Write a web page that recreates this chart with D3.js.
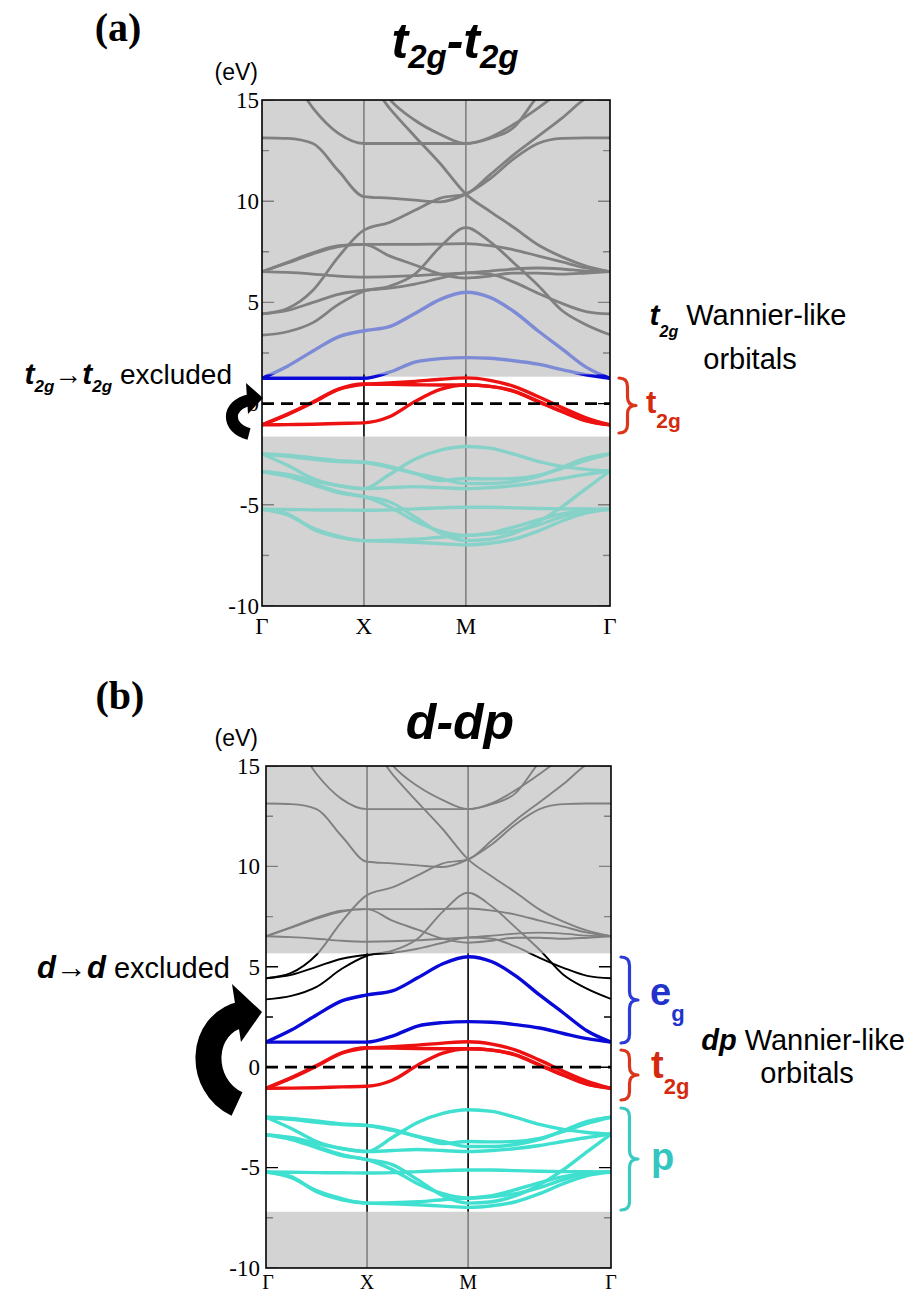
<!DOCTYPE html>
<html><head><meta charset="utf-8">
<script src="https://cdn.jsdelivr.net/npm/d3@7"></script>
<style>body{margin:0;background:#fff}</style>
</head><body>
<svg id="c" width="912" height="1293" xmlns="http://www.w3.org/2000/svg"></svg>
<script>
// ---------- data ----------
const kLabels = ["Γ","X","M","Γ"];
const kLabelPos = [0, 1, 2, 3.414];
const kPoints = [0,0.25,0.5,0.75,1, 1.25,1.5,1.75,2, 2.236,2.471,2.707,2.943,3.179,3.414];
const yTicks = [15,10,5,0,-5,-10];
const yMinor = [12.5,7.5,2.5,-2.5,-7.5];

const upperBands = [
 [13.13,13.1,12.85,11.5,10.23, 10.15,10.05,9.97,10.35, 11.1,12.1,12.85,13.1,13.13,13.13],
 [17.5,16.5,14.6,13.35,12.85, 12.85,12.85,12.85,12.85, 13.1,13.65,15.2,16.3,17.2,17.5],
 [17.4,17.2,17.0,16.6,16.2, 14.6,13.2,11.85,10.35, 9.5,8.7,7.85,7.25,6.8,6.52],
 [4.43,4.7,5.6,7.25,8.57, 8.95,9.55,10.15,10.35, 11.3,12.3,13.2,14.1,15.1,15.6],
 [6.52,6.95,7.4,7.75,7.87, 7.87,7.87,7.88,7.9, 7.8,7.6,7.3,7.0,6.7,6.52],
 [6.52,6.98,7.45,7.8,7.87, 7.3,6.85,6.4,6.2, 6.3,6.45,6.45,6.4,6.45,6.52],
 [6.52,6.48,6.4,6.3,6.25, 6.27,6.32,6.4,6.46, 6.55,6.65,6.7,6.65,6.55,6.52],
 [3.38,3.55,4.0,4.9,5.55, 5.8,6.4,7.75,8.69, 8.0,6.95,5.85,4.6,3.9,3.4],
 [4.43,4.6,5.0,5.4,5.6, 5.7,5.9,6.2,6.46, 6.4,6.0,5.45,4.95,4.55,4.43],
 [18,18,17.8,17.4,17, 15.05,14.0,13.3,12.85, 13.15,13.8,14.6,15.5,16.5,17]
];
const egBands = [
 [1.25,1.85,2.6,3.3,3.6, 3.8,4.45,5.15,5.5, 5.25,4.55,3.6,2.7,1.8,1.25],
 [1.25,1.25,1.25,1.25,1.25, 1.55,2.05,2.22,2.27, 2.24,2.12,1.95,1.68,1.42,1.25]
];
const t2gBands = [
 [-1.05,-0.55,0.05,0.7,0.95, 1.02,1.1,1.2,1.27, 1.15,0.85,0.35,-0.2,-0.7,-1.05],
 [-1.05,-0.52,0.08,0.72,0.97, 0.95,0.93,0.92,0.92, 0.85,0.6,0.1,-0.4,-0.85,-1.05],
 [-1.05,-1.04,-1.02,-0.98,-0.95, -0.65,0.1,0.7,0.92, 0.85,0.62,0.12,-0.38,-0.83,-1.05]
];
const pBands = [
 [-2.49,-2.55,-2.68,-2.82,-2.9, -3.15,-3.45,-3.7,-3.95, -3.95,-3.85,-3.6,-3.15,-2.7,-2.49],
 [-2.49,-2.6,-2.75,-2.86,-2.9, -3.1,-3.45,-3.8,-3.7, -3.72,-3.7,-3.55,-3.2,-2.8,-2.49],
 [-2.49,-3.05,-3.7,-4.05,-4.2, -3.5,-2.75,-2.3,-2.12, -2.2,-2.5,-2.85,-3.1,-3.25,-3.33],
 [-3.37,-3.5,-3.8,-4.05,-4.2, -4.15,-4.1,-4.15,-4.2, -4.15,-4.05,-3.9,-3.7,-3.5,-3.33],
 [-3.37,-3.6,-4.0,-4.4,-4.6, -5.1,-5.8,-6.3,-6.52, -6.45,-6.3,-6.0,-5.6,-5.3,-5.22],
 [-3.37,-3.55,-3.95,-4.35,-4.6, -4.85,-5.6,-6.4,-6.77, -6.7,-6.4,-5.85,-5.1,-4.2,-3.33],
 [-5.22,-5.23,-5.25,-5.26,-5.27, -5.25,-5.2,-5.15,-5.12, -5.12,-5.15,-5.18,-5.2,-5.21,-5.22],
 [-5.22,-5.45,-6.2,-6.6,-6.77, -6.8,-6.85,-6.92,-6.98, -6.9,-6.7,-6.3,-5.8,-5.4,-5.22],
 [-5.22,-5.5,-6.15,-6.55,-6.77, -6.75,-6.7,-6.6,-6.52, -6.4,-6.1,-5.75,-5.45,-5.28,-5.22]
];
const windowA = [-1.63, 1.33];
const windowB = [-7.2, 5.67];

// ---------- drawing ----------
const svg = d3.select("#c");
const SANS = "'Liberation Sans', Arial, sans-serif";
const SERIF = "'Liberation Serif', 'Times New Roman', serif";

const full = {other:"#000000", eg:"#0a0ad8", t2g:"#ee1111", p:"#40e0d0"};
const faded = {other:"#808080", eg:"#7d8bd6", t2g:"#f08080", p:"#86d2c9"};

function panel(cfg){
  const x = d3.scaleLinear().domain([0, 3.414]).range([cfg.left, cfg.right]);
  const y = d3.scaleLinear().domain([-10, 15]).range([cfg.bottom, cfg.top]);
  const g = svg.append("g");
  const W = cfg.right - cfg.left;
  g.append("rect").attr("x",cfg.left).attr("y",cfg.top).attr("width",W).attr("height",cfg.bottom-cfg.top).attr("fill","#d3d3d3");
  g.append("rect").attr("x",cfg.left).attr("y",y(cfg.win[1])).attr("width",W).attr("height",y(cfg.win[0])-y(cfg.win[1])).attr("fill","#ffffff");
  const defs = svg.append("defs");
  const wHi = cfg.win[1] + cfg.pad, wLo = cfg.win[0];
  defs.append("clipPath").attr("id","win"+cfg.id).append("rect")
     .attr("x",cfg.left).attr("y",y(wHi)).attr("width",W).attr("height",y(wLo)-y(wHi));
  const out = defs.append("clipPath").attr("id","out"+cfg.id);
  out.append("rect").attr("x",cfg.left).attr("y",cfg.top).attr("width",W).attr("height",y(wHi)-cfg.top);
  out.append("rect").attr("x",cfg.left).attr("y",y(wLo)).attr("width",W).attr("height",cfg.bottom-y(wLo));

  const line = d3.line().x((d,i)=>x(kPoints[i])).y(d=>y(d)).curve(d3.curveMonotoneX);
  const groups = [["other",upperBands],["p",pBands],["eg",egBands],["t2g",t2gBands]];

  [["out",faded],["win",full]].forEach(([cl,pal])=>{
    const cg = g.append("g").attr("clip-path",`url(#${cl}${cfg.id})`);
    cg.selectAll("line.v").data(kLabelPos.slice(1,3)).enter().append("line")
      .attr("x1",d=>x(d)).attr("x2",d=>x(d)).attr("y1",cfg.top).attr("y2",cfg.bottom)
      .attr("stroke", pal.other).attr("stroke-width",1.6);
    const tk = yTicks.map(v=>({v,len:12})).concat(yMinor.map(v=>({v,len:7})));
    tk.forEach(t=>{
      cg.append("line").attr("x1",cfg.left).attr("x2",cfg.left+t.len).attr("y1",y(t.v)).attr("y2",y(t.v))
        .attr("stroke",pal.other).attr("stroke-width",1.4);
      cg.append("line").attr("x1",cfg.right-t.len).attr("x2",cfg.right).attr("y1",y(t.v)).attr("y2",y(t.v))
        .attr("stroke",pal.other).attr("stroke-width",1.4);
    });
    groups.forEach(([key,bands])=>{
      cg.selectAll(null).data(bands).enter().append("path")
        .attr("d",line).attr("fill","none")
        .attr("stroke",pal[key])
        .attr("stroke-width", key==="other" ? cfg.thinW : 3.4)
        .attr("stroke-linejoin","round");
    });
  });
  g.append("line").attr("x1",cfg.left).attr("x2",cfg.right).attr("y1",y(0)).attr("y2",y(0))
    .attr("stroke","#000").attr("stroke-width",2.8).attr("stroke-dasharray","12,7");
  g.append("rect").attr("x",cfg.left).attr("y",cfg.top).attr("width",W).attr("height",cfg.bottom-cfg.top)
    .attr("fill","none").attr("stroke","#000").attr("stroke-width",1.6);
  g.selectAll(null).data(yTicks).enter().append("text")
    .attr("x",cfg.left-cfg.ygap).attr("y",d=>y(d)).attr("dy","0.34em")
    .attr("text-anchor","end").attr("font-family",SERIF).attr("font-size",23)
    .text(d=>d);
  g.selectAll(null).data(kLabels).enter().append("text")
    .attr("x",(d,i)=>x(kLabelPos[i]) + (i===0 ? cfg.x0shift : 0)).attr("y",cfg.bottom+cfg.xlab)
    .attr("text-anchor","middle").attr("font-family",SERIF).attr("font-size",cfg.xfs)
    .text(d=>d);
  return {x,y};
}

panel({id:"a", left:262, right:610, top:100, bottom:606, win:windowA, pad:0.12, thinW:2.8, xlab:28, xfs:23, ygap:3, x0shift:0});
panel({id:"b", left:266, right:611, top:766, bottom:1268, win:windowB, pad:0, thinW:1.9, xlab:21, xfs:20, ygap:6, x0shift:2});

// ---------- text helpers ----------
function rich(x, y, anchor, parts, base){
  const t = svg.append("text").attr("x",x).attr("y",y).attr("text-anchor",anchor)
    .attr("font-family", SANS).attr("fill", (base&&base.fill)||"#000");
  parts.forEach(p=>{
    const s = t.append("tspan").text(p.t).attr("font-size",p.fs);
    if(p.b) s.attr("font-weight","bold");
    if(p.i) s.attr("font-style","italic");
    if(p.dy) s.attr("dy",p.dy);
    if(p.fill) s.attr("fill",p.fill);
  });
  return t;
}
function brace(x, y0, y1, w, color){
  const ym = (y0+y1)/2, h = w/2;
  const d = `M${x},${y0} Q${x+h},${y0} ${x+h},${y0+h} L${x+h},${ym-h} Q${x+h},${ym} ${x+w},${ym} `+
            `Q${x+h},${ym} ${x+h},${ym+h} L${x+h},${y1-h} Q${x+h},${y1} ${x},${y1}`;
  svg.append("path").attr("d",d).attr("fill","none").attr("stroke",color).attr("stroke-width",3.2)
    .attr("stroke-linecap","round").attr("stroke-linejoin","round");
}
function curvedArrow(arc, sw, head){
  svg.append("path").attr("d",arc).attr("fill","none").attr("stroke","#000").attr("stroke-width",sw);
  svg.append("polygon").attr("points",head.map(p=>p.join(",")).join(" ")).attr("fill","#000");
}

// ---------- panel (a) annotations ----------
svg.append("text").attr("x",118).attr("y",41).attr("text-anchor","middle")
  .attr("font-family",SERIF).attr("font-weight","bold").attr("font-size",40).text("(a)");
svg.append("text").attr("x",258).attr("y",80).attr("text-anchor","end")
  .attr("font-family",SANS).attr("font-size",23).text("(eV)");
rich(455, 58, "middle", [
  {t:"t",fs:50,b:1,i:1},{t:"2g",fs:33,b:1,i:1,dy:10},{t:"-",fs:50,b:1,i:1,dy:-10},
  {t:"t",fs:50,b:1,i:1},{t:"2g",fs:33,b:1,i:1,dy:10}]);
rich(232, 384, "end", [
  {t:"t",fs:30,b:1,i:1},{t:"2g",fs:17,b:1,i:1,dy:8},{t:"→",fs:28,dy:-8},
  {t:"t",fs:30,b:1,i:1},{t:"2g",fs:17,b:1,i:1,dy:8},{t:" excluded",fs:28,dy:-8}]);
rich(748, 325, "middle", [
  {t:"t",fs:30,b:1,i:1},{t:"2g",fs:16,b:1,i:1,dy:12},{t:" Wannier-like",fs:29,dy:-12}]);
svg.append("text").attr("x",750).attr("y",369).attr("text-anchor","middle")
  .attr("font-family",SANS).attr("font-size",29).text("orbitals");
brace(619, 378, 433, 17, "#d9361c");
rich(646, 413, "start", [{t:"t",fs:31,b:1},{t:"2g",fs:21,b:1,dy:15}], {fill:"#d42a0e"});
curvedArrow("M250,400 C226,405 226,428 249,434", 12, [[246,383],[263,398],[248,414]]);

// ---------- panel (b) annotations ----------
svg.append("text").attr("x",120).attr("y",709).attr("text-anchor","middle")
  .attr("font-family",SERIF).attr("font-weight","bold").attr("font-size",40).text("(b)");
svg.append("text").attr("x",258).attr("y",746).attr("text-anchor","end")
  .attr("font-family",SANS).attr("font-size",23).text("(eV)");
rich(460, 739, "middle", [{t:"d-dp",fs:50,b:1,i:1}]);
rich(230, 978, "end", [
  {t:"d",fs:31,b:1,i:1},{t:"→",fs:31},{t:"d",fs:31,b:1,i:1},{t:" excluded",fs:29}]);
rich(803, 1050, "middle", [{t:"dp",fs:29,b:1,i:1},{t:" Wannier-like",fs:29}]);
svg.append("text").attr("x",807).attr("y",1083).attr("text-anchor","middle")
  .attr("font-family",SANS).attr("font-size",29).text("orbitals");
brace(621, 957, 1043, 17, "#2b3bd5");
brace(621, 1050, 1100, 17, "#d9361c");
brace(621, 1108, 1210, 17, "#3cc9c1");
rich(650, 1005, "start", [{t:"e",fs:38,b:1},{t:"g",fs:22,b:1,dy:16}], {fill:"#2233cc"});
rich(651, 1078, "start", [{t:"t",fs:38,b:1},{t:"2g",fs:22,b:1,dy:16}], {fill:"#d42a0e"});
rich(651, 1170, "start", [{t:"p",fs:38,b:1}], {fill:"#33c5c0"});
curvedArrow("M243,1014 C198,1024 198,1086 237,1104", 26, [[232,984],[262,1012],[241,1042]]);
</script>
</body></html>
